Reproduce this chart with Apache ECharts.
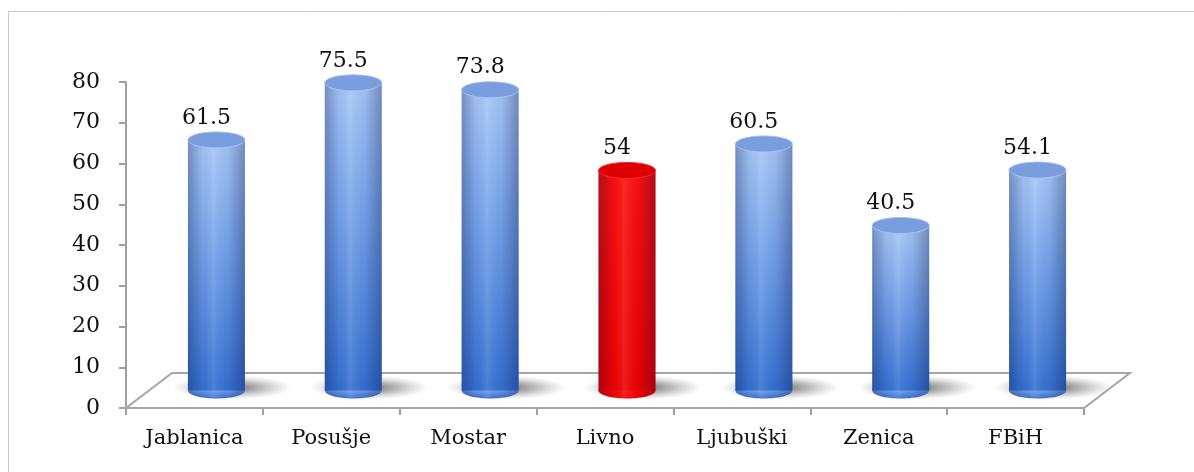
<!DOCTYPE html>
<html>
<head>
<meta charset="utf-8">
<script src="https://cdn.jsdelivr.net/npm/echarts@6/dist/echarts.min.js"></script>
<style>
  html, body { margin: 0; padding: 0; background: #fff; }
  #main { width: 1194px; height: 472px; }
</style>
</head>
<body>
<div id="main"></div>
<script>
const CATEGORIES = ['Jablanica', 'Posušje', 'Mostar', 'Livno', 'Ljubuški', 'Zenica', 'FBiH'];
const VALUES = [61.5, 75.5, 73.8, 54, 60.5, 40.5, 54.1];
const HIGHLIGHT = ['Livno'];
const Y_TICKS = [0, 10, 20, 30, 40, 50, 60, 70, 80];

const FONT = 'DejaVu Serif';
// floor depth (perspective offset of the back edge)
const DEPTH_X = 46;
const DEPTH_Y = -35;

let chart = echarts.init(document.getElementById('main'));

function renderFloor(params, api) {
  let first = api.coord([0, 0]);
  let last = api.coord([CATEGORIES.length - 1, 0]);
  let band = api.size([1, 0])[0];
  let x0 = first[0] - band / 2;
  let x1 = last[0] + band / 2;
  let y = first[1];
  return {
    type: 'polygon',
    shape: {
      points: [[x0, y], [x1, y], [x1 + DEPTH_X, y + DEPTH_Y], [x0 + DEPTH_X, y + DEPTH_Y]]
    },
    style: { fill: '#fff', stroke: '#a6a6a6', lineWidth: 2 },
    silent: true
  };
}

function renderCylinder(params, api) {
  let idx = api.value(0);
  let top = api.coord([idx, api.value(1)]);
  let base = api.coord([idx, 0]);
  let cx = top[0] + DEPTH_X / 2 - 1;
  let ty = top[1] + DEPTH_Y / 2;
  let by = base[1] + DEPTH_Y / 2;
  let w = 57, rx = w / 2, ry = 8;
  let red = HIGHLIGHT.indexOf(CATEGORIES[idx]) >= 0;

  let bodyFill = red
    ? new echarts.graphic.LinearGradient(0, 0, 0, 1, [
        { offset: 0, color: '#ff1010' }, { offset: 1, color: '#f00000' }])
    : new echarts.graphic.LinearGradient(0, 0, 0, 1, [
        { offset: 0, color: '#a9c9f9' }, { offset: 0.5, color: '#6f9ee8' }, { offset: 1, color: '#3571d2' }]);
  let edgeShade = new echarts.graphic.LinearGradient(0, 0, 1, 0, [
    { offset: 0, color: 'rgba(0,10,60,0.30)' },
    { offset: 0.25, color: 'rgba(0,10,60,0.05)' },
    { offset: 0.45, color: 'rgba(255,255,255,0.10)' },
    { offset: 0.7, color: 'rgba(0,10,60,0.05)' },
    { offset: 1, color: 'rgba(0,10,60,0.32)' }]);
  let capFill = red ? '#dc0000' : '#7a9ddd';
  let capStroke = red ? '#ff2a2a' : '#a4c2f2';
  let shadowFill = new echarts.graphic.RadialGradient(0.5, 0.5, 0.5, [
    { offset: 0, color: 'rgba(80,80,80,0.85)' },
    { offset: 0.5, color: 'rgba(110,110,110,0.45)' },
    { offset: 1, color: 'rgba(150,150,150,0)' }]);

  return {
    type: 'group',
    children: [
      {
        type: 'circle',
        x: cx + 16, y: by - 3,
        scaleY: 0.2,
        shape: { cx: 0, cy: 0, r: 60 },
        style: { fill: shadowFill },
        silent: true
      },
      { type: 'ellipse', shape: { cx: cx, cy: by, rx: rx, ry: ry }, style: { fill: bodyFill } },
      { type: 'ellipse', shape: { cx: cx, cy: by, rx: rx, ry: ry }, style: { fill: edgeShade } },
      { type: 'rect', shape: { x: cx - rx, y: ty, width: w, height: by - ty }, style: { fill: bodyFill } },
      { type: 'rect', shape: { x: cx - rx, y: ty, width: w, height: by - ty }, style: { fill: edgeShade } },
      { type: 'ellipse', shape: { cx: cx, cy: ty, rx: rx, ry: ry }, style: { fill: capFill, stroke: capStroke, lineWidth: 1 } },
      {
        type: 'text',
        x: cx - 10,
        y: ty - 22,
        style: {
          text: String(api.value(1)),
          fontFamily: FONT,
          fontSize: 22,
          fill: '#111',
          align: 'center',
          verticalAlign: 'middle'
        }
      }
    ]
  };
}

var option = {
  animation: false,
  backgroundColor: '#fff',
  graphic: [{
    type: 'rect',
    shape: { x: 8.5, y: 11.5, width: 1200, height: 500 },
    style: { fill: 'none', stroke: '#c8c8c8', lineWidth: 1 },
    silent: true
  }],
  grid: { left: 126, right: 110, top: 82, bottom: 64 },
  xAxis: {
    type: 'category',
    data: CATEGORIES,
    axisLine: { lineStyle: { color: '#a0a0a0', width: 2 } },
    axisTick: { show: true, length: 7, lineStyle: { color: '#a0a0a0', width: 2 } },
    axisLabel: { fontFamily: FONT, fontSize: 21, color: '#111', margin: 20 }
  },
  yAxis: {
    type: 'value',
    min: Y_TICKS[0],
    max: Y_TICKS[Y_TICKS.length - 1],
    interval: 10,
    splitLine: { show: false },
    axisLine: { show: true, lineStyle: { color: '#a0a0a0', width: 2 } },
    axisTick: { show: true, length: 7, lineStyle: { color: '#a0a0a0', width: 2 } },
    axisLabel: { fontFamily: FONT, fontSize: 22, color: '#111', margin: 26 }
  },
  series: [{
    type: 'custom',
    renderItem: renderFloor,
    data: [[0]],
    z: 1,
    silent: true
  }, {
    type: 'custom',
    renderItem: renderCylinder,
    encode: { x: 0, y: 1 },
    data: VALUES.map(function (v, i) { return [i, v]; }),
    z: 3
  }]
};

chart.setOption(option);
</script>
</body>
</html>
